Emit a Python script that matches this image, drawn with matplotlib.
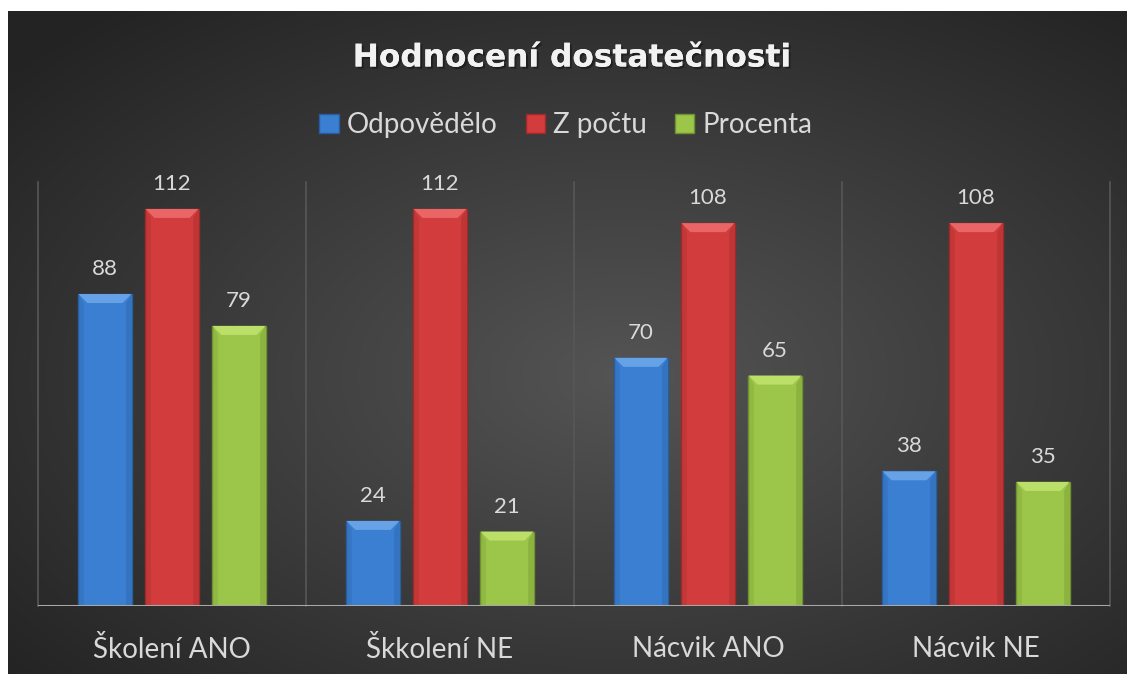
import numpy as np
import matplotlib
matplotlib.use("Agg")
import matplotlib.pyplot as plt
from matplotlib.patches import Patch, Polygon
import matplotlib.patheffects as pe

categories = ["Školení ANO", "Škkolení NE", "Nácvik ANO", "Nácvik NE"]
series_names = ["Odpovědělo", "Z počtu", "Procenta"]
odpovedelo = [88, 24, 70, 38]
z_poctu = [112, 112, 108, 108]
procenta = [79, 21, 65, 35]
series_values = [odpovedelo, z_poctu, procenta]
colors = ["#3a7fd2", "#d23c3c", "#9cc649"]
dark = ["#2a5d9e", "#9c2a2a", "#6f9230"]
light = ["#68a2e6", "#ea6666", "#bcdf6a"]

FONT = ["Lato", "DejaVu Sans"]
plt.rcParams['font.family'] = FONT

W, H = 1127, 674
fig = plt.figure(figsize=(W / 100, H / 100), dpi=100)
fig.patch.set_facecolor("white")

# background with radial gradient
bg = fig.add_axes([8 / W, 0, 1 - 8 / W, (H - 11) / H])
bg.set_axis_off()
yy, xx = np.mgrid[0:1:300j, 0:1:500j]
r = np.sqrt(((xx - 0.55) / 0.75) ** 2 + ((yy - 0.45) / 0.75) ** 2)
val = np.clip(0.33 - 0.20 * r, 0.14, 0.34)
img = np.dstack([val, val, val])
bg.imshow(img, extent=[0, 1, 0, 1], origin="lower", aspect="auto", interpolation="bilinear")
bg.set_xlim(0, 1)
bg.set_ylim(0, 1)

ax = fig.add_axes([38 / W, 68 / H, 1072 / W, 424 / H])
ax.patch.set_alpha(0)
ax.set_xlim(-0.5, 3.5)
ax.set_ylim(0, 119.6)
for s in ax.spines.values():
    s.set_visible(False)
ax.set_yticks([])
ax.set_xticks([])

x = np.arange(len(categories))
bw = 0.198
offsets = [-0.25, 0, 0.25]

# separators
for sx in np.arange(-0.5, len(categories), 1.0):
    ax.plot([sx, sx], [0, 119.6], color="#575757", lw=1.2, zorder=1, clip_on=False)
ax.axhline(0, color="#a8a8a8", lw=2.2, zorder=5)

# px -> data conversions
ppx = (1072 / 4.0)
ppy = (424 / 119.6)
bx = 9 / ppx
byv = 9 / ppy

for i, (vals, c) in enumerate(zip(series_values, colors)):
    bars = ax.bar(x + offsets[i], vals, bw, color=c, edgecolor=dark[i], lw=1.0, zorder=3)
    for b in bars:
        x0, w, h = b.get_x(), b.get_width(), b.get_height()
        x1 = x0 + w
        ax.add_patch(Polygon([[x0, h], [x1, h], [x1 - bx, h - byv], [x0 + bx, h - byv]],
                             closed=True, facecolor=light[i], edgecolor="none", zorder=4))
        ax.add_patch(Polygon([[x0, h], [x0 + bx * 0.6, h - byv], [x0 + bx * 0.6, 0], [x0, 0]],
                             closed=True, facecolor=dark[i], alpha=0.25, edgecolor="none", zorder=4))
        ax.add_patch(Polygon([[x1, h], [x1 - bx * 0.6, h - byv], [x1 - bx * 0.6, 0], [x1, 0]],
                             closed=True, facecolor=dark[i], alpha=0.35, edgecolor="none", zorder=4))
        ax.text(x0 + w / 2, h + 4.2, f"{int(h)}", ha="center", va="bottom",
                color="#d9d9d9", fontsize=16, zorder=6)

for xi, cat in zip(x, categories):
    ax.text(xi, -8.4, cat, ha="center", va="top", color="#d9d9d9", fontsize=20,
            transform=ax.transData, clip_on=False)

fig.text(572 / W, 1 - 58 / H, "Hodnocení dostatečnosti", ha="center", va="center",
         color="#f2f2f2", fontsize=22.5, fontweight="bold", family=["DejaVu Sans"],
         path_effects=[pe.withSimplePatchShadow(offset=(1.5, -1.5), shadow_rgbFace="black", alpha=0.35), pe.Normal()])

handles = [Patch(facecolor=c, edgecolor=d, label=n) for c, d, n in zip(colors, dark, series_names)]
leg = fig.legend(handles=handles, loc="center", bbox_to_anchor=(566 / W, 1 - 125 / H), ncol=3,
                 frameon=False, fontsize=20, handlelength=0.7, handleheight=0.7,
                 handletextpad=0.3, columnspacing=1.0)
for t in leg.get_texts():
    t.set_color("#d9d9d9")

fig.savefig("out.png", dpi=100, facecolor=fig.get_facecolor())
